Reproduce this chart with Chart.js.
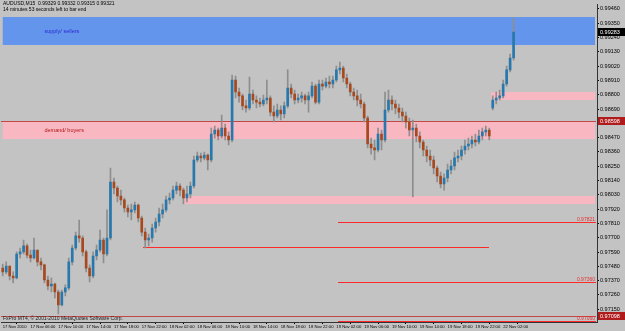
<!DOCTYPE html>
<html>
<head>
<meta charset="utf-8">
<script src="https://cdn.jsdelivr.net/npm/chart.js@4.4.0/dist/chart.umd.min.js"></script>
<style>
  html, body { margin: 0; padding: 0; background: #c3c3c3; overflow: hidden; }
  #c { display: block; }
</style>
</head>
<body>
<canvas id="c" width="625" height="331"></canvas>
<script>
// AUDUSD candles, 17 Nov 2010 -> 22 Nov 2010 (one bar per half hour)
const opens = [
  0.97467,0.97437,0.97483,0.97406,0.97391,0.97575,0.97591,0.97637,0.97567,0.97544,
  0.97606,0.97514,0.97491,0.97375,0.97329,0.97344,0.97283,0.97183,0.97283,0.97314,
  0.97514,0.97621,0.97714,0.97698,0.97591,0.97467,0.97406,0.97560,0.97606,0.97683,
  0.97575,0.97698,0.98129,0.98083,0.98021,0.97991,0.97929,0.97898,0.97914,0.97952,
  0.97852,0.97744,0.97683,0.97698,0.97775,0.97821,0.97883,0.97914,0.97991,0.98006,
  0.98067,0.98098,0.98067,0.98006,0.98037,0.98098,0.98298,0.98329,0.98314,0.98337,
  0.98298,0.98498,0.98529,0.98483,0.98544,0.98483,0.98452,0.98914,0.98821,0.98791,
  0.98714,0.98698,0.98806,0.98760,0.98744,0.98729,0.98760,0.98775,0.98667,0.98637,
  0.98683,0.98652,0.98714,0.98852,0.98806,0.98760,0.98775,0.98791,0.98760,0.98791,
  0.98867,0.98744,0.98883,0.98867,0.98898,0.98883,0.98914,0.98991,0.99006,0.98929,
  0.98883,0.98821,0.98791,0.98760,0.98729,0.98621,0.98421,0.98391,0.98375,0.98498,
  0.98452,0.98683,0.98760,0.98729,0.98698,0.98667,0.98637,0.98591,0.98529,0.98544,
  0.98483,0.98437,0.98375,0.98329,0.98298,0.98237,0.98175,0.98114,0.98160,0.98221,
  0.98252,0.98314,0.98329,0.98375,0.98406,0.98421,0.98452,0.98437,0.98483,0.98514,
  0.98529,0.98698,0.98760,0.98775,0.98791,0.98883,0.98991,0.99083
];
const highs = [
  0.97498,0.97514,0.97483,0.97437,0.97591,0.97621,0.97683,0.97652,0.97606,0.97698,
  0.97606,0.97544,0.97498,0.97406,0.97391,0.97352,0.97298,0.97298,0.97337,0.97544,
  0.97644,0.97744,0.97837,0.97714,0.97606,0.97491,0.97591,0.97644,0.97760,0.97698,
  0.97914,0.98237,0.98160,0.98098,0.98067,0.98006,0.97952,0.97960,0.97975,0.97960,
  0.97867,0.97775,0.97729,0.97806,0.97852,0.97929,0.97960,0.98021,0.98044,0.98098,
  0.98129,0.98114,0.98083,0.98098,0.98129,0.98329,0.98360,0.98352,0.98360,0.98344,
  0.98544,0.98560,0.98544,0.98644,0.98575,0.98514,0.98952,0.98944,0.98852,0.98806,
  0.98760,0.98937,0.98837,0.98791,0.98775,0.98798,0.98914,0.98791,0.98714,0.98729,
  0.98714,0.98744,0.98991,0.98883,0.98837,0.98806,0.98821,0.98806,0.98821,0.98898,
  0.98883,0.98914,0.98914,0.98929,0.98944,0.98944,0.99021,0.99052,0.99021,0.98960,
  0.98898,0.98852,0.98837,0.98806,0.98744,0.98637,0.98467,0.98452,0.98544,0.98529,
  0.98821,0.98837,0.98791,0.98760,0.98729,0.98698,0.98667,0.98621,0.98606,0.98575,
  0.98514,0.98452,0.98406,0.98375,0.98329,0.98252,0.98206,0.98191,0.98267,0.98298,
  0.98360,0.98375,0.98406,0.98452,0.98467,0.98483,0.98498,0.98529,0.98544,0.98560,
  0.98544,0.98791,0.98821,0.98837,0.98914,0.99021,0.99114,0.99391
];
const lows = [
  0.97406,0.97421,0.97375,0.97352,0.97383,0.97544,0.97575,0.97544,0.97514,0.97537,
  0.97483,0.97452,0.97352,0.97298,0.97283,0.97237,0.97114,0.97175,0.97252,0.97298,
  0.97491,0.97606,0.97667,0.97560,0.97437,0.97360,0.97391,0.97529,0.97591,0.97506,
  0.97560,0.97683,0.98037,0.97975,0.97952,0.97898,0.97860,0.97837,0.97891,0.97821,
  0.97714,0.97621,0.97637,0.97667,0.97744,0.97791,0.97852,0.97898,0.97960,0.97991,
  0.98037,0.98021,0.97960,0.97975,0.98006,0.98083,0.98283,0.98283,0.98298,0.98221,
  0.98283,0.98467,0.98452,0.98467,0.98452,0.98414,0.98437,0.98775,0.98744,0.98683,
  0.98667,0.98683,0.98729,0.98698,0.98706,0.98714,0.98729,0.98637,0.98591,0.98621,
  0.98606,0.98621,0.98698,0.98775,0.98729,0.98737,0.98744,0.98729,0.98667,0.98775,
  0.98729,0.98729,0.98837,0.98852,0.98852,0.98852,0.98898,0.98960,0.98898,0.98852,
  0.98791,0.98760,0.98714,0.98698,0.98591,0.98391,0.98344,0.98298,0.98360,0.98375,
  0.98437,0.98667,0.98683,0.98652,0.98621,0.98591,0.98544,0.98483,0.98014,0.98437,
  0.98391,0.98329,0.98283,0.98252,0.98191,0.98129,0.98083,0.98067,0.98129,0.98191,
  0.98221,0.98283,0.98298,0.98344,0.98375,0.98391,0.98406,0.98421,0.98452,0.98483,
  0.98452,0.98683,0.98729,0.98760,0.98775,0.98867,0.98975,0.99067
];
const closes = [
  0.97437,0.97483,0.97406,0.97391,0.97575,0.97591,0.97637,0.97567,0.97544,0.97606,
  0.97514,0.97491,0.97375,0.97329,0.97344,0.97283,0.97183,0.97283,0.97314,0.97514,
  0.97621,0.97714,0.97698,0.97591,0.97467,0.97406,0.97560,0.97606,0.97683,0.97575,
  0.97698,0.98129,0.98083,0.98021,0.97991,0.97929,0.97898,0.97914,0.97952,0.97852,
  0.97744,0.97683,0.97698,0.97775,0.97821,0.97883,0.97914,0.97991,0.98006,0.98067,
  0.98098,0.98067,0.98006,0.98037,0.98098,0.98298,0.98329,0.98314,0.98337,0.98298,
  0.98498,0.98529,0.98483,0.98544,0.98483,0.98452,0.98914,0.98821,0.98791,0.98714,
  0.98698,0.98806,0.98760,0.98744,0.98729,0.98760,0.98775,0.98667,0.98637,0.98683,
  0.98652,0.98714,0.98852,0.98806,0.98760,0.98775,0.98791,0.98760,0.98791,0.98867,
  0.98744,0.98883,0.98867,0.98898,0.98883,0.98914,0.98991,0.99006,0.98929,0.98883,
  0.98821,0.98791,0.98760,0.98729,0.98621,0.98421,0.98391,0.98375,0.98498,0.98452,
  0.98683,0.98760,0.98729,0.98698,0.98667,0.98637,0.98591,0.98529,0.98544,0.98483,
  0.98437,0.98375,0.98329,0.98298,0.98237,0.98175,0.98114,0.98160,0.98221,0.98252,
  0.98314,0.98329,0.98375,0.98406,0.98421,0.98452,0.98437,0.98483,0.98514,0.98529,
  0.98483,0.98760,0.98775,0.98791,0.98883,0.98991,0.99083,0.99283
];

// time axis labels (every 8 bars)
const timeTickBars = [0, 8, 16, 24, 32, 40, 48, 56, 64, 72, 80, 88, 96, 104, 112, 120, 128, 136, 144];
const timeLabels = [
  '17 Nov 2010', '17 Nov 06:00', '17 Nov 10:00', '17 Nov 14:00', '17 Nov 18:00', '17 Nov 22:00',
  '18 Nov 02:00', '18 Nov 06:00', '18 Nov 10:00', '18 Nov 14:00', '18 Nov 18:00', '18 Nov 22:00',
  '19 Nov 02:00', '19 Nov 06:00', '19 Nov 10:00', '19 Nov 14:00', '19 Nov 18:00', '19 Nov 22:00',
  '22 Nov 02:00'
];

// price axis labels
const priceTicks = [
  0.99460, 0.99350, 0.99240, 0.99130, 0.99020, 0.98910, 0.98800, 0.98690, 0.98580, 0.98470, 0.98360,
  0.98250, 0.98140, 0.98030, 0.97920, 0.97810, 0.97700, 0.97590, 0.97480, 0.97370, 0.97260, 0.97150
];

// supply / demand zones
const zoneNames = ['supply/ sellers', 'demand/ buyers', '', ''];
const zoneTop = [0.99398, 0.98591, 0.98821, 0.98021];
const zoneBottom = [0.99183, 0.98460, 0.98760, 0.97960];
const zoneFromBar = [0, 0, 140.5, 52];

// horizontal levels
const levelPrices = [0.98598, 0.97821, 0.97629, 0.97360, 0.97098, 0.97060];
const levelFromBar = [-0.5, 96.5, 40.5, 96.5, -0.5, 96.5];
const levelToBar = [null, null, 140, null, null, null];
const levelOnAxis = [true, false, false, false, true, false];

const headerLine1 = 'AUDUSD,M15  0.99329 0.99332 0.99315 0.99321';
const headerLine2 = '14 minutes 53 seconds left to bar end';
const footerText = 'FxPro MT4, \u00a9 2001-2010 MetaQuotes Software Corp.';

const UP = '#2678ad';
const DOWN = '#a8481e';
const WICK = '#8e8e8e';
const FONT = '"Liberation Sans", Arial, sans-serif';

const mtOverlay = {
  id: 'mtOverlay',
  beforeDraw(chart) {
    const ctx = chart.ctx;
    ctx.save();
    ctx.fillStyle = '#c3c3c3';
    ctx.fillRect(0, 0, chart.width, chart.height);
    ctx.restore();
  },
  beforeDatasetsDraw(chart) {
    const { ctx, chartArea: a, scales: { x, y } } = chart;
    ctx.save();
    // zones
    zoneTop.forEach((top, i) => {
      const x0 = x.getPixelForValue(zoneFromBar[i]);
      const y0 = y.getPixelForValue(top);
      const y1 = y.getPixelForValue(zoneBottom[i]);
      ctx.fillStyle = i === 0 ? '#6495ed' : '#f9b7c2';
      ctx.fillRect(x0, y0, a.right - 2 - x0, y1 - y0);
      if (zoneNames[i]) {
        ctx.fillStyle = i === 0 ? '#2a2ad0' : '#b01818';
        ctx.font = '5.5px ' + FONT;
        ctx.textBaseline = 'middle';
        ctx.fillText(zoneNames[i], x.getPixelForValue(12), (y0 + y1) / 2);
      }
    });
    // level lines (1px filled strips)
    levelPrices.forEach((p, i) => {
      const py = Math.round(y.getPixelForValue(p));
      const x0 = Math.round(Math.max(a.left, x.getPixelForValue(levelFromBar[i])));
      const x1 = Math.round(levelToBar[i] === null ? a.right - 1 : x.getPixelForValue(levelToBar[i]));
      ctx.fillStyle = levelOnAxis[i] ? '#c04848' : '#ff2a2a';
      ctx.fillRect(x0, py, x1 - x0, 1);
      if (!levelOnAxis[i] && levelToBar[i] === null) {
        ctx.fillStyle = '#e83030';
        ctx.font = '5px ' + FONT;
        ctx.textAlign = 'right';
        ctx.textBaseline = 'bottom';
        ctx.fillText(p.toFixed(5), a.right - 2, py);
        ctx.textAlign = 'left';
      }
    });
    ctx.restore();
  },
  afterDraw(chart) {
    const { ctx, chartArea: a, scales: { y } } = chart;
    ctx.save();
    ctx.font = '5px ' + FONT;
    ctx.fillStyle = '#000';
    ctx.textBaseline = 'middle';
    ctx.fillText(headerLine1, a.left + 2, 4);
    ctx.fillText(headerLine2, a.left + 2, 10);
    ctx.fillStyle = '#222';
    ctx.fillText(footerText, a.left + 2, a.bottom - 3);
    // price boxes on the axis
    const box = (p, bg) => {
      const py = Math.round(y.getPixelForValue(p));
      ctx.fillStyle = bg;
      ctx.fillRect(a.right + 1, py - 4, chart.width - a.right - 1, 8);
      ctx.fillStyle = '#fff';
      ctx.font = '5.5px ' + FONT;
      ctx.fillText(p.toFixed(5), a.right + 3, py + 0.5);
    };
    levelPrices.forEach((p, i) => { if (levelOnAxis[i]) box(p, '#b01c1c'); });
    box(closes[closes.length - 1], '#000');
    ctx.restore();
  }
};

new Chart(document.getElementById('c'), {
  type: 'bar',
  data: {
    datasets: [
      {
        label: 'body',
        data: closes.map((c, i) => ({ x: i, y: [opens[i], c] })),
        backgroundColor: closes.map((c, i) => c >= opens[i] ? UP : DOWN),
        barThickness: 2,
        minBarLength: 1
      },
      {
        label: 'wick',
        data: highs.map((h, i) => ({ x: i, y: [lows[i], h] })),
        backgroundColor: WICK,
        barThickness: 1
      }
    ]
  },
  options: {
    responsive: false,
    animation: false,
    devicePixelRatio: 1,
    events: [],
    layout: { padding: { left: 1, top: 0, right: 0, bottom: 0 } },
    datasets: { bar: { grouped: false } },
    plugins: { legend: { display: false }, tooltip: { enabled: false } },
    scales: {
      x: {
        type: 'linear',
        min: -0.5,
        max: 171,
        offset: false,
        afterBuildTicks: s => { s.ticks = timeTickBars.map(v => ({ value: v })); },
        afterFit: s => { s.height = 9; },
        ticks: {
          autoSkip: false,
          maxRotation: 0,
          align: 'start',
          padding: 0,
          color: '#000',
          font: { size: 4.2, family: FONT },
          callback: (v, i) => timeLabels[i]
        },
        grid: { drawOnChartArea: false, tickLength: 2, color: '#000' },
        border: { color: '#333' }
      },
      y: {
        position: 'right',
        min: 0.97052,
        max: 0.99496,
        afterBuildTicks: s => { s.ticks = priceTicks.map(v => ({ value: v })); },
        afterFit: s => { s.width = 28; },
        ticks: {
          padding: 1,
          color: '#000',
          font: { size: 5.5, family: FONT },
          callback: v => v.toFixed(5)
        },
        grid: { drawOnChartArea: false, tickLength: 2, color: '#000' },
        border: { color: '#333' }
      }
    }
  },
  plugins: [mtOverlay]
});
</script>
</body>
</html>
